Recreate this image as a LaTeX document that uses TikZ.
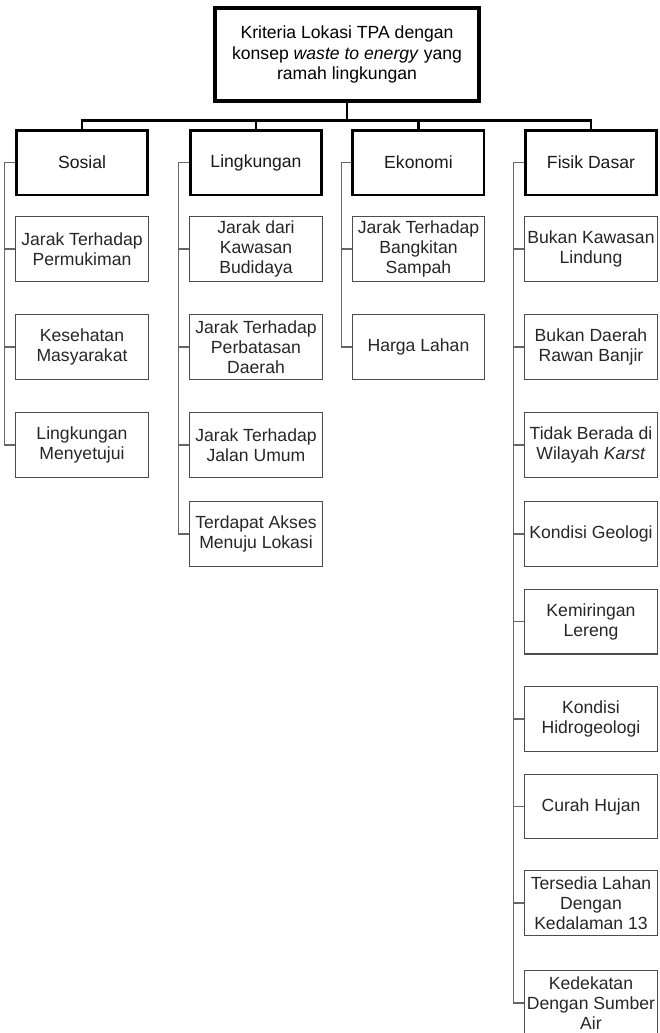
\documentclass[tikz,border=0pt]{standalone}
\usepackage{fontspec}
\setmainfont{Liberation Sans}
\usepackage{tikz}
\usetikzlibrary{positioning}
\tikzset{
    rootnode/.style = {draw, rectangle, line width=3pt, minimum width=198pt, minimum height=69.75pt,
      inner sep=0em, node distance=0em, font=\fontsize{13.2}{15.5}\selectfont},
    groupnode/.style = {draw, rectangle, line width=1.9pt, minimum width=98.6pt, minimum height=48.4pt,
      inner sep=0em, node distance=0em, font=\fontsize{13.2}{15}\selectfont, text=black!90},
    itemnode/.style = {draw=black!70, rectangle, line width=0.95pt, minimum width=99.5pt, minimum height=48.5pt,
      inner sep=0em, node distance=0em, font=\fontsize{13.2}{15}\selectfont, text=black!85},
    branch/.style = {black, line width=2.2pt},
    twig/.style = {black!60, line width=0.9pt},
    every text node part/.style={align=center}
}

\begin{document}
\begin{tikzpicture}
    \useasboundingbox (0,0) rectangle (495pt,-774.75pt);

    \node [name=root, rootnode] at (260.25pt,-40.9pt) {Kriteria Lokasi TPA dengan\\ konsep \textit{waste to energy} yang\\ ramah lingkungan};

    \node [name=sos, groupnode, below of = root, xshift=-198.75pt, yshift=-81pt] {Sosial};
    \node [name=ling, groupnode, below of = root, xshift=-68.25pt, yshift=-81pt] {Lingkungan};
    \node [name=eko, groupnode, below of = root, xshift=53.6pt, yshift=-81pt] {Ekonomi};
    \node [name=fis, groupnode, below of = root, xshift=183pt, yshift=-81pt] {Fisik Dasar};

    \draw [branch] (root.south) -- ++(0,-13pt) -| (sos.north);
    \draw [branch] (root.south) -- ++(0,-13pt) -| (ling.north);
    \draw [branch] (root.south) -- ++(0,-13pt) -| (eko.north);
    \draw [branch] (root.south) -- ++(0,-13pt) -| (fis.north);

    \node [name=sos1, itemnode, below of = sos, yshift=-64.9pt] {Jarak Terhadap\\ Permukiman};
    \node [name=sos2, itemnode, below of = sos1, yshift=-73.5pt] {Kesehatan\\ Masyarakat};
    \node [name=sos3, itemnode, below of = sos2, yshift=-73.5pt] {Lingkungan\\ Menyetujui};

    \node [name=ling1, itemnode, below of = ling, yshift=-64.9pt] {Jarak dari\\ Kawasan\\ Budidaya};
    \node [name=ling2, itemnode, below of = ling1, yshift=-73.5pt] {Jarak Terhadap\\ Perbatasan\\ Daerah};
    \node [name=ling3, itemnode, below of = ling2, yshift=-73.5pt] {Jarak Terhadap\\ Jalan Umum};
    \node [name=ling4, itemnode, below of = ling3, yshift=-66.75pt] {Terdapat Akses\\ Menuju Lokasi};

    \node [name=eko1, itemnode, below of = eko, yshift=-64.9pt] {Jarak Terhadap\\ Bangkitan\\ Sampah};
    \node [name=eko2, itemnode, below of = eko1, yshift=-73.5pt] {Harga Lahan};

    \node [name=fis1, itemnode, below of = fis, yshift=-64.9pt] {Bukan Kawasan\\ Lindung};
    \node [name=fis2, itemnode, below of = fis1, yshift=-73.5pt] {Bukan Daerah\\ Rawan Banjir};
    \node [name=fis3, itemnode, below of = fis2, yshift=-73.5pt] {Tidak Berada di\\ Wilayah \textit{Karst}};
    \node [name=fis4, itemnode, below of = fis3, yshift=-66.75pt] {Kondisi Geologi};
    \node [name=fis5, itemnode, below of = fis4, yshift=-65.6pt] {Kemiringan\\ Lereng};
    \node [name=fis6, itemnode, below of = fis5, yshift=-73.1pt] {Kondisi\\ Hidrogeologi};
    \node [name=fis7, itemnode, below of = fis6, yshift=-65.6pt] {Curah Hujan};
    \node [name=fis8, itemnode, below of = fis7, yshift=-72.4pt] {Tersedia Lahan\\ Dengan\\ Kedalaman 13};
    \node [name=fis9, itemnode, below of = fis8, yshift=-75pt] {Kedekatan\\ Dengan Sumber\\ Air};

    \draw [twig] (sos.west) -- ++(-7.7pt,0) |- (sos1.west);
    \draw [twig] (sos.west) -- ++(-7.7pt,0) |- (sos2.west);
    \draw [twig] (sos.west) -- ++(-7.7pt,0) |- (sos3.west);

    \draw [twig] (ling.west) -- ++(-7.7pt,0) |- (ling1.west);
    \draw [twig] (ling.west) -- ++(-7.7pt,0) |- (ling2.west);
    \draw [twig] (ling.west) -- ++(-7.7pt,0) |- (ling3.west);
    \draw [twig] (ling.west) -- ++(-7.7pt,0) |- (ling4.west);

    \draw [twig] (eko.west) -- ++(-7.7pt,0) |- (eko1.west);
    \draw [twig] (eko.west) -- ++(-7.7pt,0) |- (eko2.west);

    \draw [twig] (fis.west) -- ++(-7.7pt,0) |- (fis1.west);
    \draw [twig] (fis.west) -- ++(-7.7pt,0) |- (fis2.west);
    \draw [twig] (fis.west) -- ++(-7.7pt,0) |- (fis3.west);
    \draw [twig] (fis.west) -- ++(-7.7pt,0) |- (fis4.west);
    \draw [twig] (fis.west) -- ++(-7.7pt,0) |- (fis5.west);
    \draw [twig] (fis.west) -- ++(-7.7pt,0) |- (fis6.west);
    \draw [twig] (fis.west) -- ++(-7.7pt,0) |- (fis7.west);
    \draw [twig] (fis.west) -- ++(-7.7pt,0) |- (fis8.west);
    \draw [twig] (fis.west) -- ++(-7.7pt,0) |- (fis9.west);
\end{tikzpicture}
\end{document}
